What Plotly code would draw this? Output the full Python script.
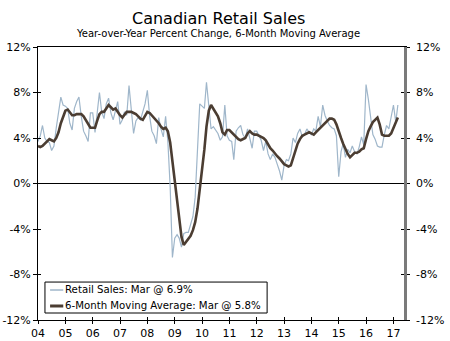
import pandas as pd
import plotly.graph_objects as go

# Monthly observations, Jan 2004 - Mar 2017 (year-over-year % change)
retail_sales = [
    # 2004
    3.7, 4.2, 5.1, 4.0, 3.7, 3.6, 2.9, 3.3, 4.9, 6.3, 7.6, 6.9,
    # 2005
    6.8, 6.6, 5.3, 4.7, 6.6, 7.2, 7.6, 5.9, 4.6, 4.2, 3.7, 6.2,
    # 2006
    6.2, 4.5, 6.0, 8.0, 6.3, 5.7, 7.0, 7.5, 6.2, 5.6, 6.4, 7.2,
    # 2007
    5.2, 5.6, 6.3, 6.0, 8.6, 6.3, 4.4, 5.5, 5.8, 5.6, 6.3, 7.0,
    # 2008
    8.2, 5.9, 4.6, 4.2, 3.5, 5.8, 4.8, 4.1, 5.9, 3.7, -0.3, -6.5,
    # 2009
    -4.8, -4.5, -4.8, -5.6, -4.4, -4.3, -4.3, -3.5, -2.9, -1.2, 2.8, 7.0,
    # 2010
    6.8, 6.6, 8.9, 6.6, 4.8, 5.0, 4.7, 4.4, 3.8, 4.1, 6.9, 4.2,
    # 2011
    3.8, 3.7, 2.1, 4.6, 4.9, 5.1, 4.3, 4.0, 4.8, 3.9, 3.1, 4.6,
    # 2012
    4.6, 4.2, 3.8, 2.9, 3.7, 2.6, 2.1, 2.6, 2.3, 1.7, 1.1, 0.3,
    # 2013
    1.6, 2.1, 2.0, 2.6, 4.0, 3.6, 4.4, 4.8, 4.1, 4.3, 4.8, 4.5,
    # 2014
    4.3, 4.8, 4.6, 5.9, 5.0, 6.9, 6.0, 5.5, 5.1, 4.9, 4.8, 4.2,
    # 2015
    0.6, 2.8, 3.5, 2.3, 3.0, 2.7, 3.3, 2.8, 2.6, 3.2, 4.1, 3.4,
    # 2016
    8.7, 7.4, 5.6, 4.3, 3.9, 3.3, 3.2, 3.2, 4.3, 5.1, 4.8, 5.7,
    # 2017
    6.9, 5.4, 6.9,
]

moving_avg = [
    # 2004
    3.3, 3.2, 3.3, 3.5, 3.7, 3.9, 3.8, 3.7, 4.0, 4.5, 5.3, 5.9,
    # 2005
    6.4, 6.5, 6.3, 6.0, 6.0, 6.1, 6.1, 6.1, 5.9, 5.6, 5.2, 4.9,
    # 2006
    4.9, 4.9, 5.5, 6.1, 6.3, 6.3, 6.6, 6.9, 6.7, 6.5, 6.6, 6.3,
    # 2007
    6.0, 5.8, 6.0, 6.3, 6.3, 6.3, 6.2, 6.1, 5.9, 5.7, 5.6, 6.0,
    # 2008
    6.3, 6.2, 6.0, 5.7, 5.5, 5.3, 5.0, 4.8, 4.9, 4.6, 3.6, 2.0,
    # 2009
    0.4, -1.4, -3.0, -4.7, -5.4, -5.1, -4.9, -4.6, -4.1, -3.4, -2.2, -0.6,
    # 2010
    1.0, 3.0, 5.0, 6.4, 6.9, 6.6, 6.3, 5.9, 5.3, 4.5, 4.3, 4.7,
    # 2011
    4.7, 4.5, 4.3, 4.1, 3.9, 3.8, 3.9, 4.0, 4.4, 4.6, 4.4, 4.3,
    # 2012
    4.3, 4.2, 4.1, 4.0, 3.8, 3.4, 3.1, 2.9, 2.6, 2.4, 2.2, 1.9,
    # 2013
    1.7, 1.6, 1.5, 1.6, 2.2, 2.9, 3.5, 3.9, 4.2, 4.3, 4.4, 4.5,
    # 2014
    4.4, 4.3, 4.5, 4.7, 4.9, 5.1, 5.3, 5.5, 5.7, 5.7, 5.6, 5.2,
    # 2015
    4.5, 4.0, 3.5, 3.0, 2.6, 2.3, 2.5, 2.7, 2.7, 2.8, 3.0, 3.1,
    # 2016
    3.9, 4.6, 5.0, 5.4, 5.6, 5.8, 5.2, 4.3, 4.2, 4.2, 4.2, 4.4,
    # 2017
    4.9, 5.3, 5.8,
]

dates = pd.date_range("2004-01-01", periods=len(retail_sales), freq="MS")

year_ticks = [f"{y}-01-01" for y in range(2004, 2018)]
year_labels = [f"{y % 100:02d}" for y in range(2004, 2018)]

y_ticks = [-12, -8, -4, 0, 4, 8, 12]
y_labels = [f"{v}%" for v in y_ticks]

legend_labels = [
    "Retail Sales: Mar @ 6.9%",
    "6-Month Moving Average: Mar @ 5.8%",
]

RAW_COLOR = "#9fb6ca"
MA_COLOR = "#4b3d32"
FONT = "DejaVu Sans"
X_RANGE = ["2004-01-01", "2017-05-22"]
Y_RANGE = [-12, 12]

fig = go.Figure()

fig.add_trace(go.Scatter(
    x=dates, y=retail_sales, mode="lines",
    line=dict(color=RAW_COLOR, width=1.2),
    showlegend=False, hoverinfo="skip",
))
fig.add_trace(go.Scatter(
    x=dates, y=moving_avg, mode="lines",
    line=dict(color=MA_COLOR, width=2.6),
    showlegend=False, hoverinfo="skip",
))

# Helper traces so the overlay axes (inner tick halves, right axis) get drawn
for xa, ya in [("x2", "y"), ("x", "y2"), ("x", "y3"), ("x", "y4")]:
    fig.add_trace(go.Scatter(
        x=[dates[0]], y=[None], xaxis=xa, yaxis=ya,
        mode="lines", showlegend=False, hoverinfo="skip",
    ))

tick_font = dict(family=FONT, size=11, color="#000000")

fig.update_layout(
    width=450, height=341,
    margin=dict(l=38, r=46, t=47, b=21),
    paper_bgcolor="white", plot_bgcolor="white",
    showlegend=False,
    xaxis=dict(
        type="date", range=X_RANGE, automargin=False,
        tickmode="array", tickvals=year_ticks, ticktext=year_labels,
        ticks="outside", ticklen=3, tickcolor="#000000", tickwidth=1,
        showline=True, linecolor="#000000", linewidth=1, mirror=True,
        showgrid=False, zeroline=False, tickfont=tick_font,
    ),
    xaxis2=dict(
        type="date", range=X_RANGE, overlaying="x", anchor="y", automargin=False,
        tickmode="array", tickvals=year_ticks,
        ticks="inside", ticklen=3, tickcolor="#000000", tickwidth=1,
        showticklabels=False, showline=False, showgrid=False, zeroline=False,
    ),
    yaxis=dict(
        range=Y_RANGE, automargin=False,
        tickmode="array", tickvals=y_ticks, ticktext=y_labels,
        ticks="outside", ticklen=4, tickcolor="#000000", tickwidth=1,
        showline=True, linecolor="#000000", linewidth=1,
        showgrid=False, zeroline=True, zerolinecolor="#000000", zerolinewidth=1,
        tickfont=tick_font,
    ),
    yaxis2=dict(
        range=Y_RANGE, overlaying="y", side="right", anchor="x", automargin=False,
        tickmode="array", tickvals=y_ticks, ticktext=y_labels,
        ticks="outside", ticklen=3, tickcolor="#000000", tickwidth=1,
        showline=True, linecolor="#7a7a7a", linewidth=2.5,
        showgrid=False, zeroline=False, tickfont=tick_font,
        ticklabelstandoff=4,
    ),
    yaxis3=dict(
        range=Y_RANGE, overlaying="y", side="left", anchor="x", automargin=False,
        tickmode="array", tickvals=y_ticks,
        ticks="inside", ticklen=3, tickcolor="#000000", tickwidth=1,
        showticklabels=False, showline=False, showgrid=False, zeroline=False,
    ),
    yaxis4=dict(
        range=Y_RANGE, overlaying="y", side="right", anchor="x", automargin=False,
        tickmode="array", tickvals=y_ticks,
        ticks="inside", ticklen=3, tickcolor="#000000", tickwidth=1,
        showticklabels=False, showline=False, showgrid=False, zeroline=False,
    ),
)

# Title and subtitle
fig.add_annotation(
    text="Canadian Retail Sales", xref="paper", yref="paper",
    x=0.492, y=1.0, yshift=29, showarrow=False,
    xanchor="center", yanchor="middle",
    font=dict(family=FONT, size=16, color="#000000"),
)
fig.add_annotation(
    text="Year-over-Year Percent Change, 6-Month Moving Average",
    xref="paper", yref="paper", x=0.492, y=1.0, yshift=14, showarrow=False,
    xanchor="center", yanchor="middle",
    font=dict(family=FONT, size=10, color="#000000"),
)

# Legend box with line keys
fig.add_shape(
    type="rect", xref="paper", yref="paper",
    x0=0.019, x1=0.626, y0=0.0256, y1=0.139,
    line=dict(color="#000000", width=1), fillcolor="white", layer="above",
)
legend_rows = [
    (0.1099, RAW_COLOR, 1.5),
    (0.0513, MA_COLOR, 3),
]
for (yk, col, w), label in zip(legend_rows, legend_labels):
    fig.add_shape(
        type="line", xref="paper", yref="paper",
        x0=0.033, x1=0.069, y0=yk, y1=yk,
        line=dict(color=col, width=w), layer="above",
    )
    fig.add_annotation(
        text=label, xref="paper", yref="paper",
        x=0.069, y=yk, showarrow=False,
        xanchor="left", yanchor="middle",
        font=dict(family=FONT, size=10.2, color="#000000"),
    )

fig.write_html("out.html")
